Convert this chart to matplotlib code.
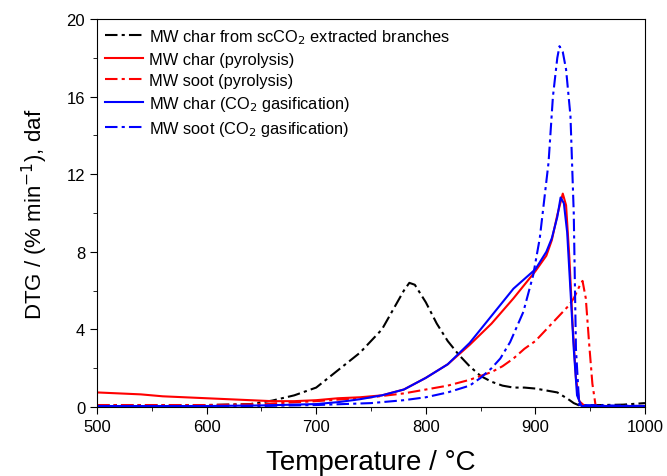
import matplotlib
matplotlib.use("Agg")
import matplotlib.pyplot as plt
from matplotlib.ticker import MultipleLocator

plt.rcParams['font.family'] = ['Liberation Sans', 'DejaVu Sans']

# MW char from scCO2 extracted branches
tBlack = [500, 550, 600, 640, 660, 680, 700, 720, 740, 760, 770, 780, 785, 790, 800, 810, 820,
          830, 840, 850, 860, 870, 880, 890, 900, 910, 920, 930, 935, 940, 960, 980, 1000]
vBlack = [0.1, 0.1, 0.1, 0.15, 0.33, 0.6, 1.0, 1.9, 2.8, 4.0, 5.0, 6.0, 6.4, 6.3, 5.4, 4.3, 3.4,
          2.7, 2.1, 1.6, 1.3, 1.1, 1.0, 1.0, 0.95, 0.85, 0.75, 0.4, 0.2, 0.08, 0.1, 0.12, 0.2]

# MW char (pyrolysis)
tRedChar = [500, 520, 540, 560, 580, 600, 620, 640, 660, 680, 700, 720, 740, 760, 780, 800, 820,
            840, 860, 880, 900, 910, 915, 920, 925, 928, 931, 934, 937, 940, 945, 1000]
vRedChar = [0.75, 0.7, 0.65, 0.55, 0.5, 0.45, 0.4, 0.35, 0.3, 0.3, 0.35, 0.45, 0.5, 0.6, 0.9, 1.5, 2.2,
            3.2, 4.3, 5.6, 7.0, 7.8, 8.6, 9.9, 11.0, 10.4, 7.7, 4.2, 1.5, 0.3, 0.05, 0.05]

# MW soot (pyrolysis)
tRedSoot = [500, 600, 650, 700, 750, 780, 800, 820, 840, 860, 870, 880, 890, 900, 910, 920, 930,
            935, 940, 943, 946, 949, 952, 955, 1000]
vRedSoot = [0.1, 0.1, 0.15, 0.3, 0.5, 0.7, 0.9, 1.1, 1.4, 1.8, 2.1, 2.5, 3.0, 3.4, 4.0, 4.6, 5.2,
            5.6, 6.2, 6.5, 5.6, 3.3, 1.2, 0.05, 0.05]

# MW char (CO2 gasification)
tBlueChar = [500, 600, 650, 700, 720, 740, 760, 780, 800, 820, 840, 860, 880, 900, 910, 915, 920,
             923, 926, 929, 932, 935, 938, 942, 1000]
vBlueChar = [0.05, 0.05, 0.08, 0.15, 0.25, 0.4, 0.6, 0.9, 1.5, 2.2, 3.3, 4.7, 6.1, 7.1, 8.0, 8.7, 9.8,
             10.8, 10.5, 9.0, 6.0, 3.0, 0.6, 0.05, 0.05]

# MW soot (CO2 gasification)
tBlueSoot = [500, 650, 700, 750, 780, 800, 820, 840, 850, 860, 868, 877, 889, 898, 904, 912, 916,
             920, 922, 925, 928, 932, 935, 937, 940, 1000]
vBlueSoot = [0.05, 0.05, 0.1, 0.2, 0.35, 0.5, 0.75, 1.1, 1.5, 2.0, 2.5, 3.35, 4.9, 6.8, 8.7, 12.6, 16.0,
             18.0, 18.6, 18.3, 17.4, 15.0, 10.0, 3.0, 0.1, 0.05]

dashdot = (0, (6, 2, 1.5, 2))

fig = plt.figure(figsize=(6.67, 4.77), dpi=100)
ax = fig.add_axes([0.1454, 0.1447, 0.8216, 0.8133])

ax.plot(tBlack, vBlack, color='k', linestyle=dashdot, lw=1.5, label=r'MW char from scCO$_2$ extracted branches')
ax.plot(tRedChar, vRedChar, color='red', lw=1.5, label='MW char (pyrolysis)')
ax.plot(tRedSoot, vRedSoot, color='red', linestyle=dashdot, lw=1.5, label='MW soot (pyrolysis)')
ax.plot(tBlueChar, vBlueChar, color='blue', lw=1.5, label=r'MW char (CO$_2$ gasification)')
ax.plot(tBlueSoot, vBlueSoot, color='blue', linestyle=dashdot, lw=1.5, label=r'MW soot (CO$_2$ gasification)')

ax.set_xlim(500, 1000)
ax.set_ylim(0, 20)
ax.xaxis.set_major_locator(MultipleLocator(100))
ax.xaxis.set_minor_locator(MultipleLocator(50))
ax.yaxis.set_major_locator(MultipleLocator(4))
ax.yaxis.set_minor_locator(MultipleLocator(2))
ax.tick_params(which='both', direction='out', top=False, right=False, labelsize=12)
ax.tick_params(which='major', length=5)
ax.tick_params(which='minor', length=3)

ax.set_xlabel('Temperature / °C', fontsize=20, labelpad=11)
ax.set_ylabel(r'DTG / (% min$^{-1}$), daf', fontsize=16, labelpad=12)

ax.legend(loc='upper left', frameon=False, fontsize=11.8, handlelength=2.3,
          handletextpad=0.37, labelspacing=0.36, borderaxespad=0.1,
          bbox_to_anchor=(0.0, 1.0))

fig.savefig('out.png', dpi=100)
